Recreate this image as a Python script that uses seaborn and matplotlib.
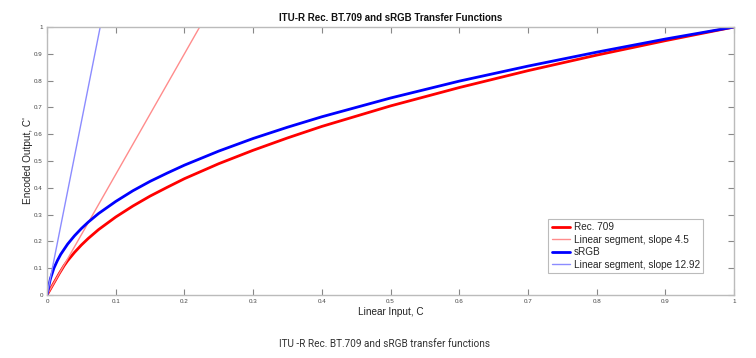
import matplotlib
matplotlib.use("Agg")
import matplotlib.pyplot as plt
import seaborn as sns
import pandas as pd

# Values
rec709_x = [0, 0.005, 0.01, 0.018, 0.025, 0.03, 0.04, 0.05, 0.06, 0.075, 0.1, 0.125, 0.15, 0.175,
            0.2, 0.25, 0.3, 0.35, 0.4, 0.5, 0.6, 0.7, 0.8, 0.9, 1.0]
rec709_y = [0, 0.0225, 0.045, 0.081, 0.110, 0.128, 0.159, 0.1865, 0.211, 0.244, 0.291, 0.332,
            0.369, 0.402, 0.434, 0.490, 0.540, 0.586, 0.629, 0.7055, 0.774, 0.837, 0.895, 0.949, 1.0]
srgb_x = [0, 0.0031, 0.005, 0.01, 0.015, 0.02, 0.03, 0.04, 0.05, 0.06, 0.075, 0.1, 0.125, 0.15,
          0.175, 0.2, 0.25, 0.3, 0.35, 0.4, 0.5, 0.6, 0.7, 0.8, 0.9, 1.0]
srgb_y = [0, 0.040, 0.061, 0.100, 0.128, 0.152, 0.190, 0.221, 0.248, 0.272, 0.304, 0.349, 0.389,
          0.424, 0.455, 0.4845, 0.537, 0.584, 0.626, 0.665, 0.735, 0.798, 0.854, 0.906, 0.955, 1.0]
lin45_x = [0, 0.2222]
lin45_y = [0, 1.0]
lin1292_x = [0, 0.0774]
lin1292_y = [0, 1.0]

labels = ["Rec. 709", "Linear segment, slope 4.5", "sRGB", "Linear segment, slope 12.92"]
xticks = [0, 0.1, 0.2, 0.3, 0.4, 0.5, 0.6, 0.7, 0.8, 0.9, 1]
yticks = [0, 0.1, 0.2, 0.3, 0.4, 0.5, 0.6, 0.7, 0.8, 0.9, 1]
tick_labels = ["0", "0.1", "0.2", "0.3", "0.4", "0.5", "0.6", "0.7", "0.8", "0.9", "1"]

sns.set_theme(style="white")
plt.rcParams["font.family"] = ["Liberation Sans", "DejaVu Sans"]

fig = plt.figure(figsize=(7.56, 3.58), dpi=100)
ax = fig.add_axes([0.0622, 0.176, 0.9088, 0.7486])

series = [
    (rec709_x, rec709_y, labels[0], "#ff0000", 2.0),
    (lin45_x, lin45_y, labels[1], "#ff8c8c", 1.0),
    (srgb_x, srgb_y, labels[2], "#0000ff", 2.0),
    (lin1292_x, lin1292_y, labels[3], "#8c8cff", 1.0),
]
for xs, ys, lab, col, lw in series:
    df = pd.DataFrame({"x": xs, "y": ys})
    sns.lineplot(data=df, x="x", y="y", ax=ax, color=col, linewidth=lw, label=lab,
                 estimator=None, sort=False)

ax.set_xlim(0, 1)
ax.set_ylim(0, 1)
ax.set_xticks(xticks)
ax.set_xticklabels(tick_labels)
ax.set_yticks(yticks)
ax.set_yticklabels(tick_labels)
ax.tick_params(direction="in", length=4, width=0.8, colors="#888888", labelcolor="#444444",
               labelsize=4.5, top=True, right=True, bottom=True, left=True, pad=3)
for s in ax.spines.values():
    s.set_color("#bbbbbb")
    s.set_linewidth(1.0)

ax.set_xlabel("Linear Input, C", fontsize=7.2, color="#222222", labelpad=2)
ax.set_ylabel("Encoded Output, C'", fontsize=7.2, color="#222222", labelpad=1)
ax.set_title("ITU-R Rec. BT.709 and sRGB Transfer Functions", fontsize=7, fontweight="bold",
             color="#111111", pad=4)

leg = ax.legend(loc="lower right", bbox_to_anchor=(0.955, 0.082), borderaxespad=0,
                fontsize=7.2, frameon=True, fancybox=False, edgecolor="#aaaaaa",
                handlelength=1.8, borderpad=0.35, labelspacing=0.25, handletextpad=0.4)
leg.get_frame().set_linewidth(0.8)

fig.text(0.508, 0.040, "ITU -R Rec. BT.709 and sRGB transfer functions", ha="center",
         va="center", fontsize=7.2, color="#333333", family=["Roboto", "DejaVu Sans"])

fig.savefig("out.png", dpi=100)
